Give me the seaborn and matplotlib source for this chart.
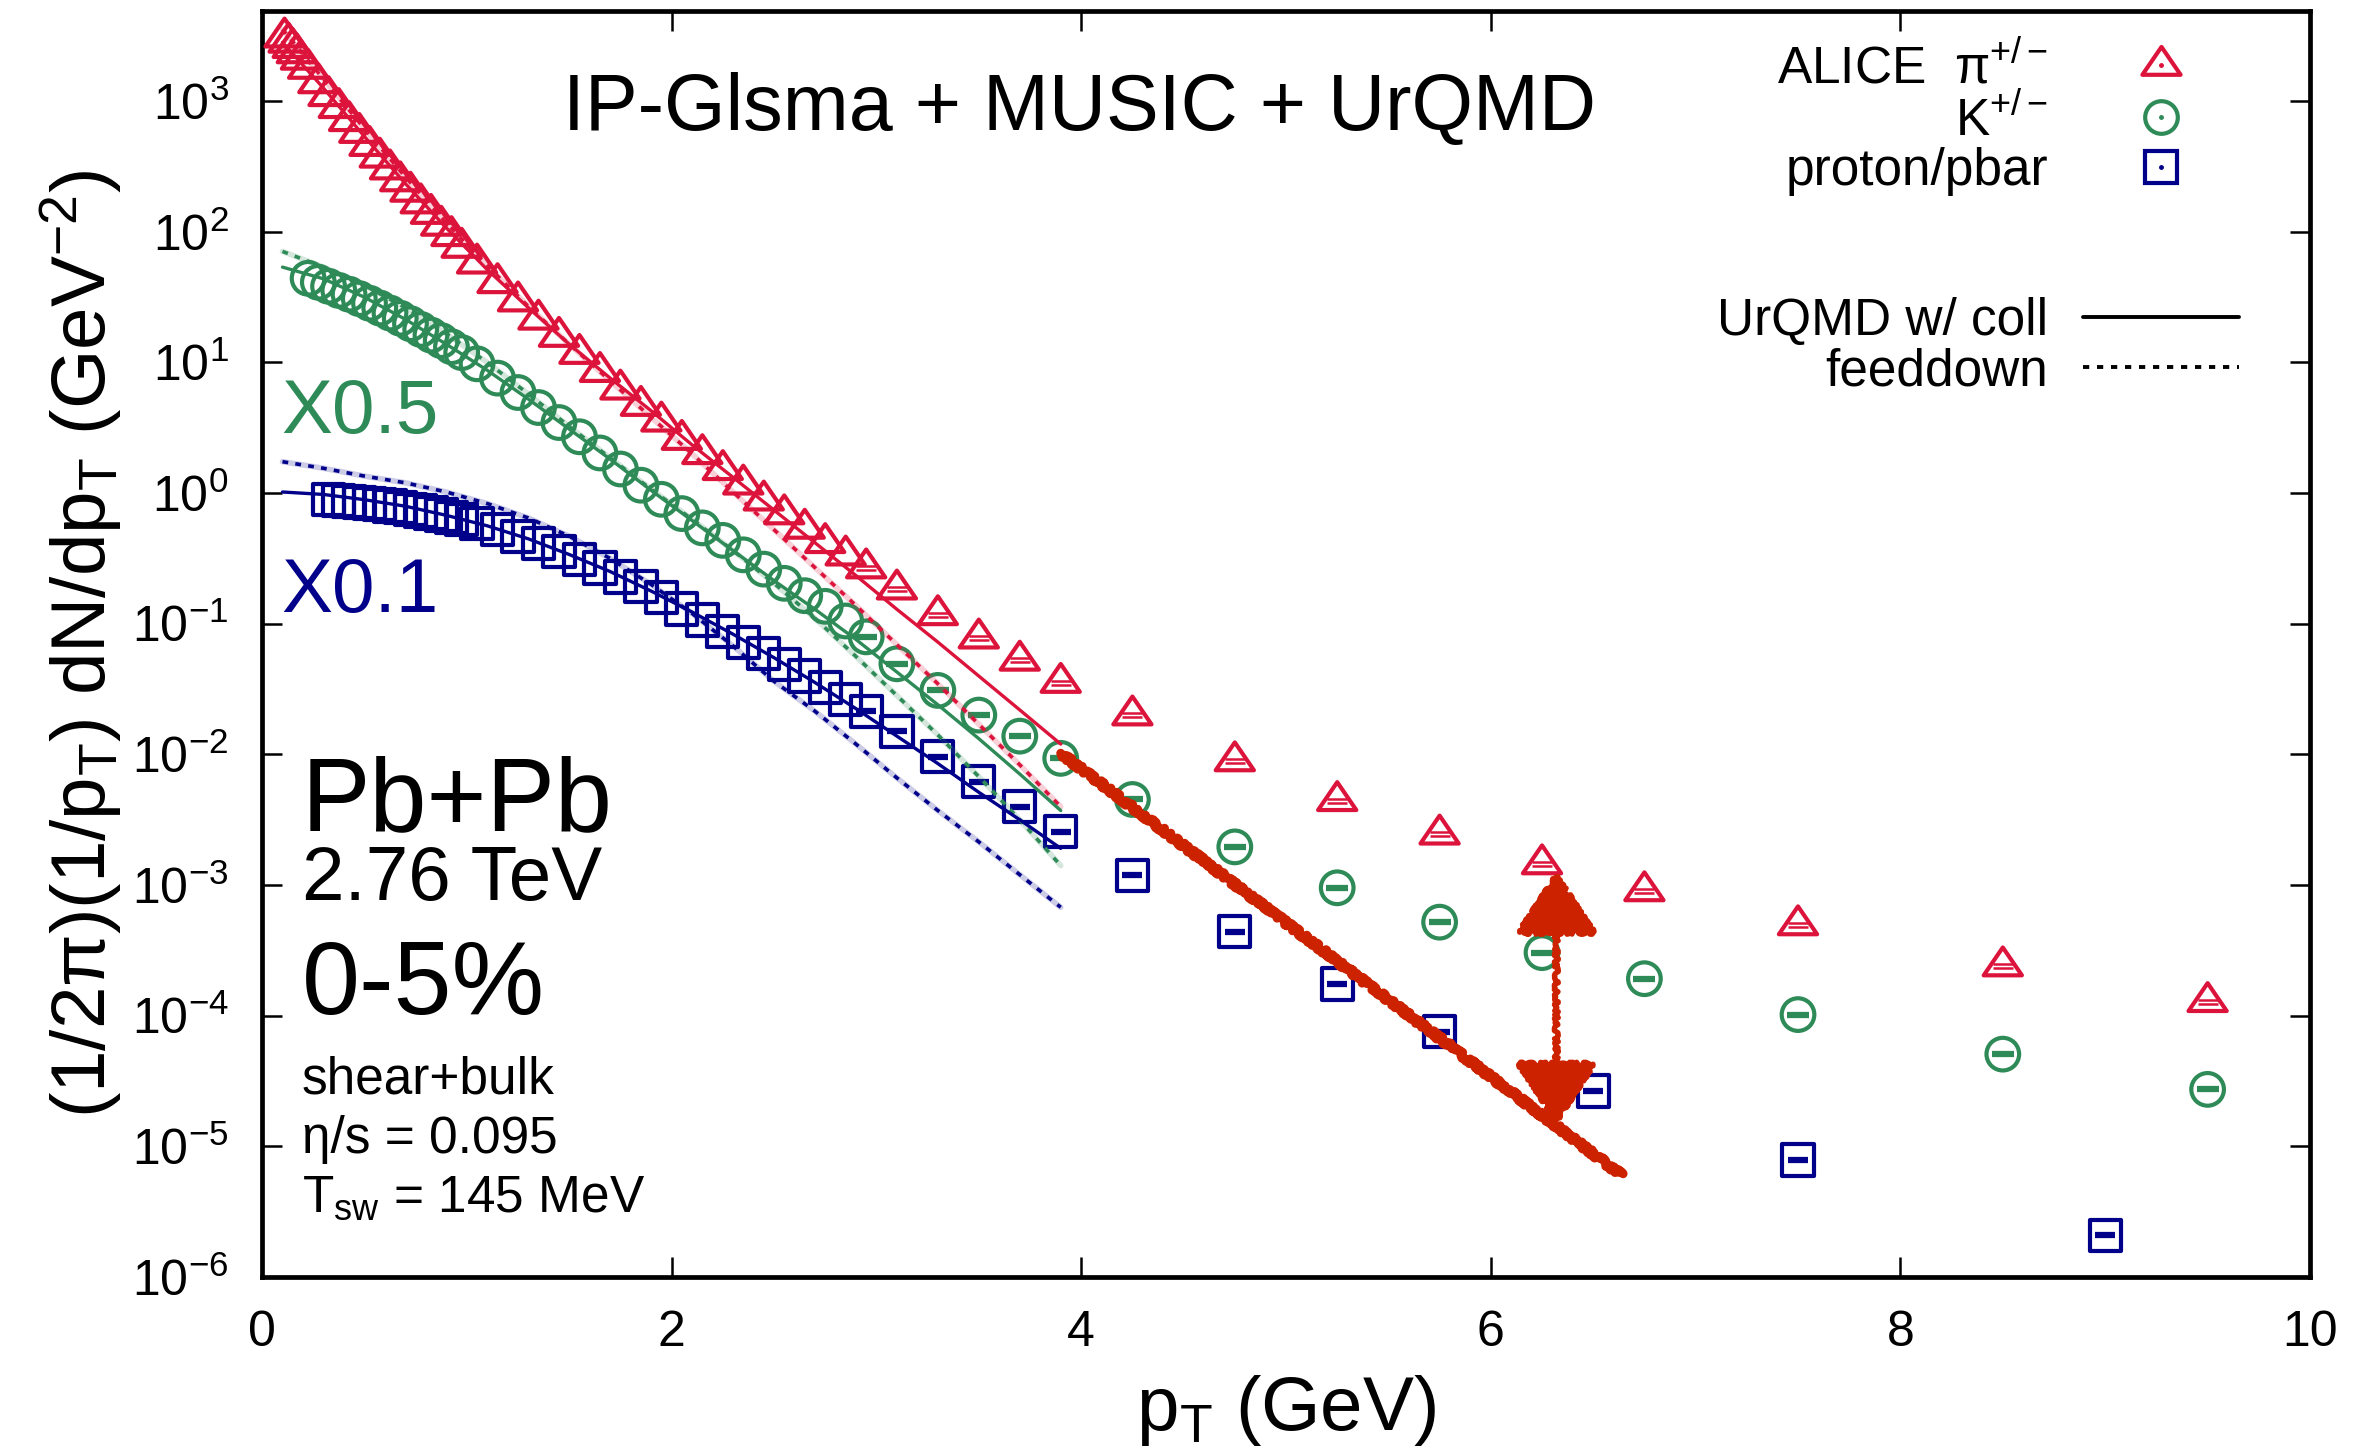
import matplotlib
matplotlib.use("Agg")
import numpy as np
import matplotlib.pyplot as plt
from matplotlib.lines import Line2D
from matplotlib.path import Path
from matplotlib.ticker import FixedLocator, FixedFormatter, NullLocator
import seaborn as sns

sns.set_style("ticks")
plt.rcParams["font.family"] = ["Liberation Sans", "DejaVu Sans"]
plt.rcParams["mathtext.fontset"] = "custom"
plt.rcParams["mathtext.rm"] = "Liberation Sans"
plt.rcParams["mathtext.it"] = "Liberation Sans:italic"
plt.rcParams["mathtext.bf"] = "Liberation Sans:bold"
plt.rcParams["text.color"] = "black"
plt.rcParams["axes.labelcolor"] = "black"
plt.rcParams["xtick.color"] = "black"
plt.rcParams["ytick.color"] = "black"

# ---------------- data (values as plotted: kaons x0.5, protons x0.1) ----------------
pion_pt = [0.11, 0.13, 0.15, 0.17, 0.19, 0.225, 0.275, 0.325, 0.375, 0.425, 0.475, 0.525,
           0.575, 0.625, 0.675, 0.725, 0.775, 0.825, 0.875, 0.925, 0.975,
           1.05, 1.15, 1.25, 1.35, 1.45, 1.55, 1.65, 1.75, 1.85, 1.95,
           2.05, 2.15, 2.25, 2.35, 2.45, 2.55, 2.65, 2.75, 2.85, 2.95,
           3.1, 3.3, 3.5, 3.7, 3.9, 4.25, 4.75, 5.25, 5.75, 6.25, 6.75, 7.5, 8.5, 9.5]
pion_y = [3090, 2820, 2570, 2340, 2090, 1780, 1380, 1100, 891, 708, 575, 457,
          372, 302, 245, 204, 166, 138, 112, 93.3, 75.9,
          57.5, 40.7, 29.5, 21.4, 15.8, 11.7, 8.51, 6.24, 4.68, 3.55,
          2.57, 2.00, 1.51, 1.17, 0.883, 0.692, 0.537, 0.417, 0.335, 0.267,
          0.184, 0.117, 0.0776, 0.0525, 0.0355, 0.0200, 0.00891, 0.00442, 0.00245,
          0.00145, 0.000902, 0.000495, 0.000240, 0.000128]

kaon_pt = [0.225, 0.275, 0.325, 0.375, 0.425, 0.475, 0.525, 0.575, 0.625, 0.675, 0.725,
           0.775, 0.825, 0.875, 0.925, 0.975,
           1.05, 1.15, 1.25, 1.35, 1.45, 1.55, 1.65, 1.75, 1.85, 1.95,
           2.05, 2.15, 2.25, 2.35, 2.45, 2.55, 2.65, 2.75, 2.85, 2.95,
           3.1, 3.3, 3.5, 3.7, 3.9, 4.25, 4.75, 5.25, 5.75, 6.25, 6.75, 7.5, 8.5, 9.5]
kaon_y = [44.1, 41.1, 38.3, 35.6, 33.3, 30.8, 28.4, 26.1, 23.9, 21.8, 19.8,
          17.9, 16.2, 14.7, 13.2, 11.9,
          9.77, 7.59, 5.89, 4.52, 3.47, 2.70, 2.03, 1.53, 1.15, 0.897,
          0.697, 0.542, 0.435, 0.337, 0.262, 0.204, 0.164, 0.136, 0.105, 0.0794,
          0.0494, 0.0309, 0.0200, 0.0138, 0.00933, 0.00452, 0.00196, 0.000953,
          0.000520, 0.000304, 0.000192, 0.000102, 5.08e-5, 2.73e-5]

proton_pt = [0.325, 0.375, 0.425, 0.475, 0.525, 0.575, 0.625, 0.675, 0.725, 0.775,
             0.825, 0.875, 0.925, 0.975,
             1.05, 1.15, 1.25, 1.35, 1.45, 1.55, 1.65, 1.75, 1.85, 1.95,
             2.05, 2.15, 2.25, 2.35, 2.45, 2.55, 2.65, 2.75, 2.85, 2.95,
             3.1, 3.3, 3.5, 3.7, 3.9, 4.25, 4.75, 5.25, 5.75, 6.5, 7.5, 9.0]
proton_y = [0.889, 0.879, 0.863, 0.849, 0.834, 0.815, 0.796, 0.773, 0.750, 0.729,
            0.705, 0.679, 0.652, 0.625,
            0.583, 0.525, 0.466, 0.409, 0.358, 0.309, 0.267, 0.228, 0.193, 0.158,
            0.130, 0.107, 0.0871, 0.0716, 0.0589, 0.0490, 0.0398, 0.0324, 0.0263, 0.0214,
            0.0150, 0.00962, 0.00619, 0.00398, 0.00256, 0.00119, 0.000441, 0.000175,
            7.55e-5, 2.65e-5, 7.87e-6, 2.09e-6]

model_pt = [0.1, 0.3, 0.5, 0.7, 0.9, 1.1, 1.3, 1.5, 1.7, 1.9,
            2.1, 2.3, 2.5, 2.7, 2.9, 3.1, 3.3, 3.5, 3.7, 3.9]
pion_coll = [2820, 1260, 537, 234, 107, 51.3, 26.3, 13.8, 7.59, 4.27,
             2.34, 1.32, 0.741, 0.417, 0.234, 0.129, 0.0724, 0.0398, 0.0219, 0.0120]
pion_feed = [3550, 1480, 617, 263, 117, 55.0, 26.9, 13.8, 7.24, 3.80,
             2.00, 1.02, 0.525, 0.269, 0.138, 0.0692, 0.0347, 0.0170, 0.00832, 0.00398]
kaon_coll = [53.7, 43.7, 31.6, 21.4, 13.8, 8.71, 5.25, 3.09, 1.82, 1.05,
             0.617, 0.363, 0.214, 0.129, 0.0759, 0.0427, 0.0240, 0.0132, 0.00708, 0.00372]
kaon_feed = [70.8, 53.7, 38.9, 26.3, 16.6, 10.0, 5.75, 3.24, 1.86, 1.07,
             0.631, 0.363, 0.204, 0.110, 0.0562, 0.0282, 0.0141, 0.00676, 0.00316, 0.00141]
proton_coll = [1.02, 0.977, 0.891, 0.794, 0.676, 0.562, 0.447, 0.339, 0.251, 0.178,
               0.123, 0.0832, 0.0550, 0.0355, 0.0224, 0.0138, 0.00851, 0.00513, 0.00316, 0.00191]
proton_feed = [1.74, 1.55, 1.35, 1.20, 1.02, 0.832, 0.646, 0.468, 0.316, 0.200,
               0.120, 0.0676, 0.0363, 0.0214, 0.0120, 0.00661, 0.00372, 0.00214, 0.00120, 0.000676]

# hand-drawn annotation (data coordinates)
sketch_line_pt = [3.9, 6.64]
sketch_line_y = [0.0102, 6.0e-6]
arrow_pt = 6.32
arrow_top = 1.26e-3
arrow_bottom = 1.47e-5

x_ticks = [0, 2, 4, 6, 8, 10]
y_tick_exp = [-6, -5, -4, -3, -2, -1, 0, 1, 2, 3]

RED, GREEN, BLUE, SKETCH = "#DC143C", "#2E8B57", "#00008B", "#CC2200"
DOT = (0, (1.6, 2.0))

fig = plt.figure(figsize=(23.78, 14.49), dpi=100)
ax = fig.add_axes([0.11018, 0.11870, 0.86123, 0.87370])
ax.set_yscale("log")
ax.set_xlim(0, 10)
ax.set_ylim(1e-6, 4.9e3)

# model curves
for yc, yf, col in [(pion_coll, pion_feed, RED), (kaon_coll, kaon_feed, GREEN),
                    (proton_coll, proton_feed, BLUE)]:
    sns.lineplot(x=model_pt, y=yf, ax=ax, color=col, alpha=0.2, linewidth=4.0,
                 estimator=None, sort=False, errorbar=None, zorder=5)
    sns.lineplot(x=model_pt, y=yf, ax=ax, color=col, linewidth=2.6, linestyle=DOT,
                 estimator=None, sort=False, errorbar=None, zorder=5)
    sns.lineplot(x=model_pt, y=yc, ax=ax, color=col, linewidth=2.4,
                 estimator=None, sort=False, errorbar=None, zorder=5)

TRI = Path([(0, 18), (-18.5, -9), (18.5, -9), (0, 18)],
           [Path.MOVETO, Path.LINETO, Path.LINETO, Path.CLOSEPOLY])
BAR2 = Path([(-1, 0.22), (1, 0.22), (-1, -0.22), (1, -0.22)],
            [Path.MOVETO, Path.LINETO, Path.MOVETO, Path.LINETO])

MS_TRI, MS_CIR, MS_SQ, MEW = 27.5, 23.5, 22.5, 3.0
sns.scatterplot(x=pion_pt, y=pion_y, ax=ax, marker=TRI, s=MS_TRI ** 2, facecolors="none",
                edgecolor=RED, linewidth=MEW, zorder=4)
sns.scatterplot(x=kaon_pt, y=kaon_y, ax=ax, marker="o", s=MS_CIR ** 2, facecolors="none",
                edgecolor=GREEN, linewidth=MEW, zorder=4)
sns.scatterplot(x=proton_pt, y=proton_y, ax=ax, marker="s", s=MS_SQ ** 2, facecolors="none",
                edgecolor=BLUE, linewidth=MEW, zorder=4)

# small error-bar dashes inside the high-pT markers
pp, py = np.array(pion_pt), np.array(pion_y)
kp, ky = np.array(kaon_pt), np.array(kaon_y)
prp, pry = np.array(proton_pt), np.array(proton_y)
ax.plot(pp[pp > 2.9], py[pp > 2.9], ls="", marker=BAR2, ms=15, mew=1.8, color=RED, zorder=4)
ax.plot(kp[kp > 2.9], ky[kp > 2.9], ls="", marker="_", ms=16, mew=4.5, color=GREEN, zorder=4)
ax.plot(prp[prp > 2.9], pry[prp > 2.9], ls="", marker="_", ms=14, mew=4.5, color=BLUE, zorder=4)

# hand-drawn annotation
sk, = ax.plot(sketch_line_pt, sketch_line_y, color=SKETCH, lw=6.5, solid_capstyle="round", zorder=7)
sk.set_sketch_params(scale=2.5, length=5, randomness=14)
ann = ax.annotate("", xy=(arrow_pt, arrow_top), xytext=(arrow_pt, arrow_bottom),
                  arrowprops=dict(arrowstyle="<|-|>,head_length=1.0,head_width=0.66",
                                  color=SKETCH, lw=3.8, mutation_scale=40,
                                  shrinkA=0, shrinkB=0), zorder=7)
ann.arrow_patch.set_sketch_params(scale=2.0, length=5, randomness=12)

# axes styling
ax.xaxis.set_major_locator(FixedLocator(x_ticks))
ax.xaxis.set_major_formatter(FixedFormatter([str(v) for v in x_ticks]))
ax.xaxis.set_minor_locator(NullLocator())
ax.yaxis.set_major_locator(FixedLocator([10.0 ** e for e in y_tick_exp]))
ax.yaxis.set_major_formatter(FixedFormatter([f"10$^{{{e}}}$" for e in y_tick_exp]))
ax.yaxis.set_minor_locator(NullLocator())
ax.tick_params(axis="both", which="major", direction="in", length=14.4, width=1.8,
               labelsize=36, top=True, right=True, pad=24, colors="black")
for sp in ax.spines.values():
    sp.set_linewidth(3.4)
    sp.set_color("black")

ax.set_xlabel("p$_\\mathrm{T}$ (GeV)", fontsize=55, color="black")
ax.xaxis.set_label_coords(0.5, -0.1209)
ax.xaxis.label.set_verticalalignment("baseline")
ax.set_ylabel("(1/2π)(1/p$_\\mathrm{T}$) dN/dp$_\\mathrm{T}$ (GeV$^{-2}$)", fontsize=55, color="black")
ax.yaxis.set_label_coords(-0.0762, 0.5)
ax.yaxis.label.set_verticalalignment("baseline")

# texts
ax.text(0.399, 0.9064, "IP-Glsma + MUSIC + UrQMD", transform=ax.transAxes,
        ha="center", va="baseline", fontsize=57, color="black")
ax.text(0.0096, 0.6667, "X0.5", transform=ax.transAxes, ha="left", va="baseline",
        fontsize=55, color=GREEN)
ax.text(0.0096, 0.5256, "X0.1", transform=ax.transAxes, ha="left", va="baseline",
        fontsize=55, color=BLUE)
ax.text(0.0195, 0.353, "Pb+Pb", transform=ax.transAxes, ha="left", va="baseline", fontsize=74, color="black")
ax.text(0.0195, 0.298, "2.76 TeV", transform=ax.transAxes, ha="left", va="baseline", fontsize=55, color="black")
ax.text(0.0195, 0.2077, "0-5%", transform=ax.transAxes, ha="left", va="baseline", fontsize=75, color="black")
ax.text(0.0195, 0.1453, "shear+bulk", transform=ax.transAxes, ha="left", va="baseline", fontsize=37, color="black")
ax.text(0.0195, 0.098, "η/s = 0.095", transform=ax.transAxes, ha="left", va="baseline", fontsize=37, color="black")
ax.text(0.0195, 0.052, "T$_\\mathrm{sw}$ = 145 MeV", transform=ax.transAxes, ha="left",
        va="baseline", fontsize=37, color="black")

# legend
def mk(marker, ms, col):
    return (Line2D([], [], marker=marker, ms=ms, mfc="none", mec=col, mew=MEW, ls=""),
            Line2D([], [], marker=".", ms=5, color=col, ls=""))

blank = Line2D([], [], ls="", marker="")
handles = [mk(TRI, MS_TRI, RED), mk("o", MS_CIR, GREEN), mk("s", MS_SQ, BLUE), blank, blank,
           Line2D([], [], color="black", lw=2.8),
           Line2D([], [], color="black", lw=2.8, linestyle=DOT)]
labels = ["ALICE  π$^{+/-}$", "K$^{+/-}$", "proton/pbar", " ", " ", "UrQMD w/ coll", "feeddown"]
leg = ax.legend(handles, labels, loc="upper right", bbox_to_anchor=(0.9653, 0.9745),
                markerfirst=False, frameon=False, fontsize=37, handlelength=3.03,
                handletextpad=0.68, labelspacing=0.02, borderpad=0, borderaxespad=0, numpoints=1)
for t in leg.get_texts():
    t.set_color("black")

fig.savefig("out.png", dpi=100)
